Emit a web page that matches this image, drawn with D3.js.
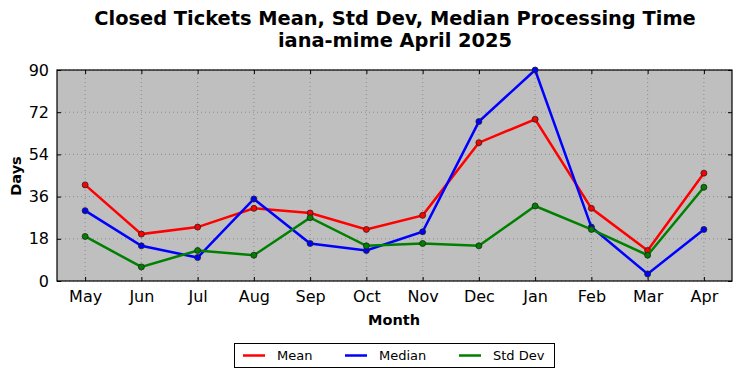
<!DOCTYPE html>
<html><head><meta charset="utf-8">
<script src="https://cdn.jsdelivr.net/npm/d3@7"></script>
<style>body{margin:0;background:#fff}svg{display:block;font-family:"DejaVu Sans",sans-serif}</style>
</head><body><svg id="c" width="742" height="378"></svg>
<script>
const months = ["May","Jun","Jul","Aug","Sep","Oct","Nov","Dec","Jan","Feb","Mar","Apr"];
const meanVals = [41,20,23,31,29,22,28,59,69,31,13,46];
const medianVals = [30,15,10,35,16,13,21,68,90,23,3,22];
const stdVals = [19,6,13,11,27,15,16,15,32,22,11,40];
const yTicks = [0,18,36,54,72,90];
const seriesNames = ["Mean","Median","Std Dev"];
const seriesColors = ["#ff0000","#0000ff","#008000"];

const svg = d3.select("#c");
const L=57,R=732,T=70,B=281;
const x = d3.scalePoint().domain(months).range([L,R]).padding(0.5);
const y = d3.scaleLinear().domain([0,90]).range([B,T]);

svg.append("rect").attr("x",L).attr("y",T).attr("width",R-L).attr("height",B-T).attr("fill","#bfbfbf");
const g = svg.append("g");
g.selectAll(".vg").data(months).join("line").attr("x1",d=>x(d)).attr("x2",d=>x(d)).attr("y1",T).attr("y2",B)
 .attr("stroke","#808080").attr("stroke-width",0.8).attr("stroke-dasharray","1,3");
g.selectAll(".hg").data(yTicks).join("line").attr("x1",L).attr("x2",R).attr("y1",d=>y(d)).attr("y2",d=>y(d))
 .attr("stroke","#808080").attr("stroke-width",0.8).attr("stroke-dasharray","1,3");

const xa = svg.append("g").attr("transform",`translate(0,${B})`).call(d3.axisBottom(x).tickSize(-4).tickPadding(10));
const xt = svg.append("g").attr("transform",`translate(0,${T})`).call(d3.axisTop(x).tickSize(-4).tickFormat(""));
const ya = svg.append("g").attr("transform",`translate(${L},0)`).call(d3.axisLeft(y).tickValues(yTicks).tickSize(-4).tickPadding(8));
const yr = svg.append("g").attr("transform",`translate(${R},0)`).call(d3.axisRight(y).tickValues(yTicks).tickSize(-4).tickFormat(""));
[xa,xt,ya,yr].forEach(a=>{a.select(".domain").remove();a.selectAll(".tick line").attr("stroke","#000");a.selectAll("text").attr("font-size",16).attr("fill","#000").attr("font-family","DejaVu Sans");});
svg.append("rect").attr("x",L).attr("y",T).attr("width",R-L).attr("height",B-T).attr("fill","none").attr("stroke","#000").attr("stroke-width",1.2);

const data = [meanVals, medianVals, stdVals];
const line = d3.line().x((d,i)=>x(months[i])).y(d=>y(d));
data.forEach((vals,k)=>{
  svg.append("path").datum(vals).attr("d",line).attr("fill","none").attr("stroke",seriesColors[k]).attr("stroke-width",2.5);
  svg.append("g").selectAll("circle").data(vals).join("circle").attr("cx",(d,i)=>x(months[i])).attr("cy",d=>y(d)).attr("r",3)
    .attr("fill",seriesColors[k]).attr("stroke","#222").attr("stroke-width",0.8);
});

svg.append("text").attr("x",395).attr("y",25).attr("text-anchor","middle").attr("font-size",19.4).attr("font-weight","bold").text("Closed Tickets Mean, Std Dev, Median Processing Time");
svg.append("text").attr("x",395).attr("y",47).attr("text-anchor","middle").attr("font-size",19.4).attr("font-weight","bold").text("iana-mime April 2025");
svg.append("text").attr("x",394).attr("y",325).attr("text-anchor","middle").attr("font-size",14.5).attr("font-weight","bold").text("Month");
svg.append("text").attr("transform","translate(21,176) rotate(-90)").attr("text-anchor","middle").attr("font-size",14.5).attr("font-weight","bold").text("Days");

const lg = svg.append("g");
lg.append("rect").attr("x",234.5).attr("y",343.5).attr("width",320).attr("height",24).attr("fill","#fff").attr("stroke","#000").attr("stroke-width",1);
const lx=[243,345,459];
seriesNames.forEach((n,k)=>{
  lg.append("line").attr("x1",lx[k]).attr("x2",lx[k]+22).attr("y1",355.5).attr("y2",355.5).attr("stroke",seriesColors[k]).attr("stroke-width",2.5);
  lg.append("text").attr("x",lx[k]+34).attr("y",360).attr("font-size",13).text(n);
});
</script></body></html>
